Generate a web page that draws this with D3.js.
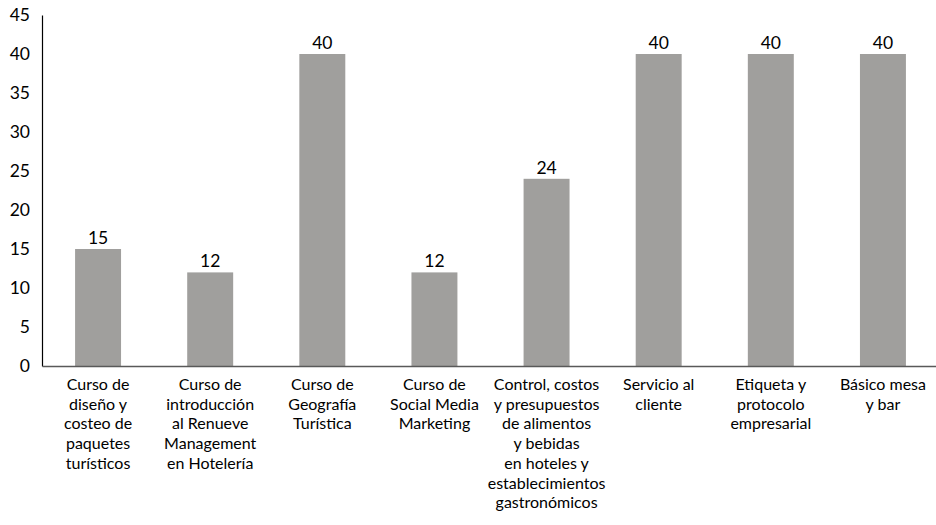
<!DOCTYPE html>
<html>
<head>
<meta charset="utf-8">
<script src="https://cdn.jsdelivr.net/npm/d3@7"></script>
<style>
  html, body { margin: 0; padding: 0; background: #fff; }
  svg { display: block; font-family: "Lato", "Open Sans", sans-serif; }
</style>
</head>
<body>
<svg id="chart" width="936" height="525"></svg>
<script>
// Course names, each split into its displayed lines
const courses = [
  ["Curso de", "diseño y", "costeo de", "paquetes", "turísticos"],
  ["Curso de", "introducción", "al Renueve", "Management", "en Hotelería"],
  ["Curso de", "Geografía", "Turística"],
  ["Curso de", "Social Media", "Marketing"],
  ["Control, costos", "y presupuestos", "de alimentos", "y bebidas", "en hoteles y", "establecimientos", "gastronómicos"],
  ["Servicio al", "cliente"],
  ["Etiqueta y", "protocolo", "empresarial"],
  ["Básico mesa", "y bar"]
];
const hours = [15, 12, 40, 12, 24, 40, 40, 40];
const yTicks = [0, 5, 10, 15, 20, 25, 30, 35, 40, 45];

const svg = d3.select("#chart");
const plotLeft = 42, plotRight = 939, plotTop = 15, plotBottom = 366;

const keys = courses.map((c, i) => i);
const x = d3.scaleBand().domain(keys).range([plotLeft, plotRight]).paddingInner(0.59).paddingOuter(0.295);
const y = d3.scaleLinear().domain([0, 45]).range([plotBottom, plotTop]);

// Bars
svg.append("g").selectAll("rect")
  .data(hours)
  .join("rect")
  .attr("x", (d, i) => x(i))
  .attr("y", d => y(d))
  .attr("width", x.bandwidth())
  .attr("height", d => y(0) - y(d))
  .attr("fill", "#a09f9d");

// Value labels
svg.append("g").selectAll("text")
  .data(hours)
  .join("text")
  .attr("x", (d, i) => x(i) + x.bandwidth() / 2)
  .attr("y", d => y(d) - 5)
  .attr("text-anchor", "middle")
  .attr("font-size", 17.5)
  .attr("fill", "#000")
  .text(d => d);

// Y axis
const yAxis = svg.append("g")
  .attr("transform", `translate(${plotLeft},0)`)
  .call(d3.axisLeft(y).tickValues(yTicks).tickSize(0).tickPadding(12));
yAxis.select(".domain").attr("stroke", "#000").attr("stroke-width", 1.2);
yAxis.selectAll("text").attr("font-size", 17.5).attr("fill", "#000")
  .attr("font-family", "Lato, 'Open Sans', sans-serif");

// X axis baseline
const xAxis = svg.append("g")
  .attr("transform", `translate(0,${plotBottom})`)
  .call(d3.axisBottom(x).tickSize(0).tickFormat(""));
xAxis.select(".domain").attr("stroke", "#595959").attr("stroke-width", 1.6);

// Category labels, multi-line and centred under each bar
const cat = svg.append("g").selectAll("text")
  .data(courses)
  .join("text")
  .attr("text-anchor", "middle")
  .attr("font-size", 16)
  .attr("fill", "#000")
  .attr("transform", (d, i) => `translate(${x(i) + x.bandwidth() / 2},${plotBottom + 24})`);
cat.selectAll("tspan")
  .data(d => d)
  .join("tspan")
  .attr("x", 0)
  .attr("y", (d, j) => j * 19.7)
  .text(d => d);
</script>
</body>
</html>
